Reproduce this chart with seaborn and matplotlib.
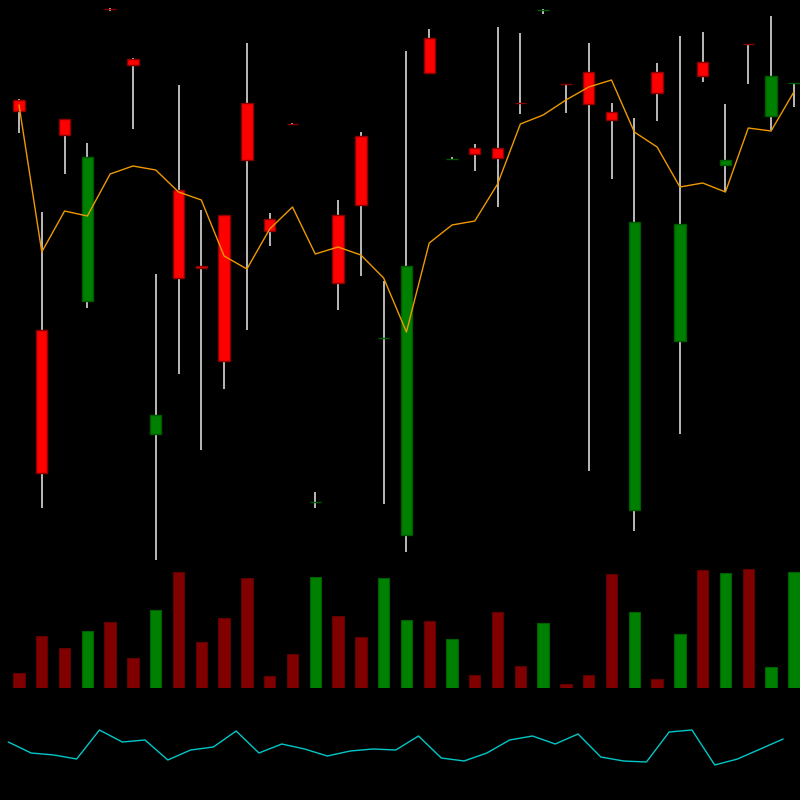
import numpy as np
import pandas as pd
import matplotlib
matplotlib.use("Agg")
import matplotlib.pyplot as plt
import seaborn as sns

# ---- data ----
opens  = [70.0, 47.0, 68.1, 49.9, 79.10, 74.1, 36.6, 61.0, 53.4, 58.5, 69.7, 58.1, 67.60, 29.80, 58.5, 66.4, 46.20,
          26.5, 76.2, 64.10, 65.2, 65.2, 69.70, 79.00, 71.60, 72.8, 68.8, 29.0, 72.8, 45.9, 73.8, 63.5, 75.60, 68.4, 71.70]
closes = [68.9, 32.7, 66.5, 64.3, 79.08, 73.5, 38.5, 52.2, 53.2, 43.9, 64.0, 56.9, 67.58, 29.82, 51.7, 59.5, 46.22,
          53.4, 72.7, 64.12, 64.6, 64.2, 69.68, 79.02, 71.58, 69.6, 68.0, 57.8, 70.7, 57.6, 72.4, 64.0, 75.58, 72.4, 71.72]
highs  = [70.1, 58.8, 68.1, 65.7, 79.2, 74.2, 52.6, 71.5, 59.0, 58.5, 75.7, 58.7, 67.7, 30.8, 60.0, 66.8, 51.9,
          74.9, 77.1, 64.3, 65.6, 77.3, 76.7, 79.1, 71.6, 75.7, 69.7, 68.2, 73.7, 76.4, 76.8, 69.6, 75.6, 78.4, 71.7]
lows   = [66.7, 29.2, 62.6, 49.2, 78.9, 67.1, 23.7, 42.6, 35.0, 41.1, 47.0, 55.4, 67.5, 29.2, 49.0, 52.4, 29.6,
          24.8, 72.6, 64.0, 62.9, 59.3, 68.6, 78.6, 68.7, 32.9, 62.1, 26.9, 67.9, 36.6, 71.8, 60.8, 71.6, 67.0, 69.3]
ma     = [69.5, 54.8, 58.9, 58.4, 62.6, 63.4, 63.0, 60.8, 60.0, 54.4, 53.1, 57.1, 59.3, 54.6, 55.3, 54.5, 52.2,
          46.8, 55.7, 57.5, 57.9, 61.6, 67.6, 68.5, 70.0, 71.3, 72.0, 66.8, 65.3, 61.3, 61.7, 60.8, 67.2, 66.9, 70.8]
volumes = [15, 52, 40, 57, 66, 30, 78, 116, 46, 70, 110, 12, 34, 111, 72, 51, 110,
           68, 67, 49, 13, 76, 22, 65, 4, 13, 114, 76, 9, 54, 118, 115, 119, 21, 116]
osc = [58, 47, 45, 41, 70, 58, 60, 40, 50, 53, 69, 47, 56, 51, 44, 49, 51, 50,
       64, 42, 39, 47, 60, 64, 56, 66, 43, 39, 38, 68, 70, 35, 41, 51, 61]

n = len(opens)
idx = np.arange(n)
up = [c > o for o, c in zip(opens, closes)]

df = pd.DataFrame({"i": idx, "ma": ma, "osc": osc, "osc_x": idx - 0.47})

sns.set_style("dark", {"axes.facecolor": "black", "figure.facecolor": "black"})

fig = plt.figure(figsize=(8, 8), dpi=100, facecolor="black")
xmin, xmax = -0.834, 34.27

ax1 = fig.add_axes([0, 0.3, 1, 0.7])
ax2 = fig.add_axes([0, 0.14, 1, 0.16])
ax3 = fig.add_axes([0, 0.0, 1, 0.14])

for ax in (ax1, ax2, ax3):
    ax.set_facecolor("black")
    ax.set_xlim(xmin, xmax)
    ax.axis("off")

# wicks
ax1.vlines(idx, lows, highs, colors="#c8c8c8", linewidth=1.3, zorder=1)
# bodies
body_col = ["#008000" if u else "#ff0000" for u in up]
edge_col = ["#005a00" if u else "#8b0000" for u in up]
bottoms = [min(o, c) for o, c in zip(opens, closes)]
heights = [abs(c - o) for o, c in zip(opens, closes)]
ax1.bar(idx, heights, bottom=bottoms, width=0.5, color=body_col,
        edgecolor=edge_col, linewidth=1.0, zorder=2)
sns.lineplot(data=df, x="i", y="ma", ax=ax1, color="#ee9900", linewidth=1.0, zorder=3)
ax1.set_ylim(24, 80)
ax1.set_xlim(xmin, xmax)
ax1.axis("off")

# volume
vol_col = ["#008000" if u else "#800000" for u in up]
vol_edge = ["#006000" if u else "#600000" for u in up]
ax2.bar(idx, volumes, width=0.5, color=vol_col, edgecolor=vol_edge, linewidth=0.8)
ax2.set_ylim(0, 128)
ax2.set_xlim(xmin, xmax)
ax2.axis("off")

# oscillator
sns.lineplot(data=df, x="osc_x", y="osc", ax=ax3, color="#00c8c8", linewidth=1.0)
ax3.set_ylim(0, 112)
ax3.set_xlim(xmin, xmax)
ax3.axis("off")

fig.savefig("out.png", dpi=100, facecolor="black")
